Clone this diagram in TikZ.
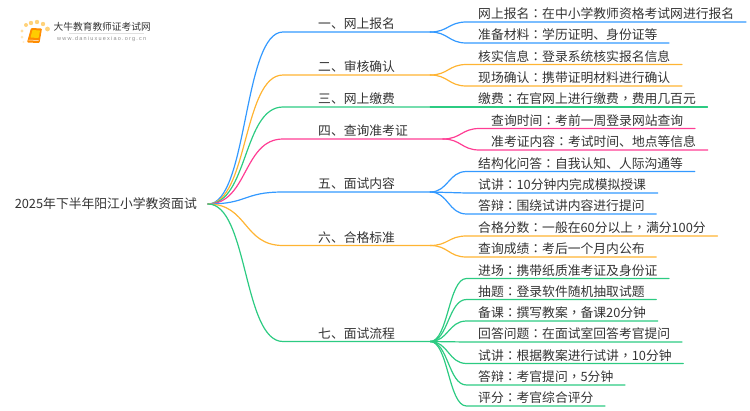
\documentclass[tikz,border=0pt]{standalone}
\usepackage{fontspec}
\setmainfont{Noto Sans CJK SC}
\newfontfamily\urlfont[LetterSpace=22]{Liberation Sans}
\newfontfamily\puncfont{Noto Sans CJK TC}
\newcommand{\zhcolon}{{\puncfont ：}}
\newcommand{\zhcomma}{{\puncfont ，}}
\definecolor{blueline}{HTML}{3399FF}
\definecolor{orangeline}{HTML}{FFB433}
\definecolor{greenline}{HTML}{2CCB82}
\definecolor{pinkline}{HTML}{FF3D94}
\definecolor{textgrey}{HTML}{333333}
\definecolor{dotgold}{HTML}{FFD27A}
\tikzset{
    rootnode/.style={anchor=east, inner xsep=11pt, inner ysep=0pt, font=\fontsize{12.8}{13}\selectfont, text=textgrey},
    stage/.style={anchor=south west, inner xsep=35pt, inner ysep=3pt, text depth=0pt, font=\fontsize{12.8}{13}\selectfont, text=textgrey},
    leaf/.style={anchor=south west, inner xsep=11.5pt, inner ysep=3pt, text depth=0pt, font=\fontsize{12.8}{13}\selectfont, text=textgrey},
    branch/.style={line width=1.2pt, line cap=round},
}
\begin{document}
\begin{tikzpicture}[x=1pt, y=-1pt]
    \useasboundingbox (0,0) rectangle (750,410);

    % logo
    \fill[dotgold] (26,25) circle (2);
    \fill[dotgold] (31,23) circle (2.2);
    \fill[dotgold] (37,22) circle (2.2);
    \fill[dotgold] (43,24) circle (2.2);
    \fill[dotgold] (47.5,29) circle (2.4);
    \fill[dotgold!70] (22,31) circle (1.7);
    \fill[dotgold!50] (22,37) circle (1.5);
    \fill[dotgold!35] (23.5,42) circle (1.2);
    \fill[orange!90!yellow, rounded corners=1pt] (31,28) -- (42,28.5) -- (39.5,43) -- (27,42.5) -- cycle;
    \fill[orange!40!yellow, rounded corners=0.5pt] (32.5,30) -- (40,30.5) -- (38.5,38) -- (30.5,37.5) -- cycle;
    \draw[white, line width=0.5pt] (28.5,40) -- (38.5,40.5);
    \node (logotext) [anchor=west, inner sep=0pt, text=textgrey, font=\fontsize{9.7}{10}\selectfont] at (53.5,26.5) {大牛教育教师证考试网};
    \node (logourl) [anchor=west, inner sep=0pt, text=black!45, font=\fontsize{5.5}{6}\urlfont] at (57,39) {www.daniuxuexiao.org.cn};
    \draw[black!12, line width=0.6pt] (logotext.south west) ++(15,2) -- ++(75,0);

    % nodes
    \node (root) [rootnode] at (208,204) {2025年下半年阳江小学教资面试};

    \node (one) [stage] at (283,32) {一、网上报名};
    \node (two) [stage] at (283,75) {二、审核确认};
    \node (three) [stage] at (283,107) {三、网上缴费};
    \node (four) [stage] at (283,139) {四、查询准考证};
    \node (five) [stage] at (283,192) {五、面试内容};
    \node (six) [stage] at (283,245.5) {六、合格标准};
    \node (seven) [stage] at (283,341.5) {七、面试流程};

    \node (signup) [leaf] at (466.5,22) {网上报名\zhcolon 在中小学教师资格考试网进行报名};
    \node (papers) [leaf] at (466.5,43) {准备材料\zhcolon 学历证明、身份证等};
    \node (verify) [leaf] at (466.5,64.5) {核实信息\zhcolon 登录系统核实报名信息};
    \node (onsite) [leaf] at (466.5,86) {现场确认\zhcolon 携带证明材料进行确认};
    \node (fee) [leaf] at (466.5,107) {缴费\zhcolon 在官网上进行缴费\zhcomma 费用几百元};
    \node (when) [leaf] at (479.5,128.5) {查询时间\zhcolon 考前一周登录网站查询};
    \node (ticket) [leaf] at (479.5,150) {准考证内容\zhcolon 考试时间、地点等信息};
    \node (struct) [leaf] at (466.5,171.5) {结构化问答\zhcolon 自我认知、人际沟通等};
    \node (talk) [leaf] at (466.5,193) {试讲\zhcolon 10分钟内完成模拟授课};
    \node (defend) [leaf] at (466.5,214) {答辩\zhcolon 围绕试讲内容进行提问};
    \node (score) [leaf] at (466.5,236) {合格分数\zhcolon 一般在60分以上\zhcomma 满分100分};
    \node (result) [leaf] at (466.5,257) {查询成绩\zhcolon 考后一个月内公布};
    \node (enter) [leaf] at (466.5,278.5) {进场\zhcolon 携带纸质准考证及身份证};
    \node (draw) [leaf] at (466.5,299.5) {抽题\zhcolon 登录软件随机抽取试题};
    \node (prep) [leaf] at (466.5,321) {备课\zhcolon 撰写教案\zhcomma 备课20分钟};
    \node (answer) [leaf] at (466.5,342) {回答问题\zhcolon 在面试室回答考官提问};
    \node (lecture) [leaf] at (466.5,363.5) {试讲\zhcolon 根据教案进行试讲\zhcomma 10分钟};
    \node (reply) [leaf] at (466.5,385) {答辩\zhcolon 考官提问\zhcomma 5分钟};
    \node (grade) [leaf] at (466.5,406) {评分\zhcolon 考官综合评分};

    % root to stages
    \draw[branch, blueline] (root.east) .. controls +(40,0) and +(-40,0) .. (one.south west) -- (one.south east);
    \draw[branch, orangeline] (root.east) .. controls +(40,0) and +(-40,0) .. (two.south west) -- (two.south east);
    \draw[branch, greenline] (root.east) .. controls +(40,0) and +(-40,0) .. (three.south west) -- (three.south east);
    \draw[branch, pinkline] (root.east) .. controls +(40,0) and +(-40,0) .. (four.south west) -- (four.south east);
    \draw[branch, blueline] (root.east) .. controls +(40,0) and +(-40,0) .. (five.south west) -- (five.south east);
    \draw[branch, orangeline] (root.east) .. controls +(40,0) and +(-40,0) .. (six.south west) -- (six.south east);
    \draw[branch, greenline] (root.east) .. controls +(40,0) and +(-40,0) .. (seven.south west) -- (seven.south east);

    % stages to leaves
    \draw[branch, blueline] (one.south east) .. controls +(18,0) and +(-18,0) .. (signup.south west) -- (signup.south east);
    \draw[branch, blueline] (one.south east) .. controls +(18,0) and +(-18,0) .. (papers.south west) -- (papers.south east);
    \draw[branch, orangeline] (two.south east) .. controls +(18,0) and +(-18,0) .. (verify.south west) -- (verify.south east);
    \draw[branch, orangeline] (two.south east) .. controls +(18,0) and +(-18,0) .. (onsite.south west) -- (onsite.south east);
    \draw[branch, greenline] (three.south east) -- (fee.south west) -- (fee.south east);
    \draw[branch, pinkline] (four.south east) .. controls +(18,0) and +(-18,0) .. (when.south west) -- (when.south east);
    \draw[branch, pinkline] (four.south east) .. controls +(18,0) and +(-18,0) .. (ticket.south west) -- (ticket.south east);
    \draw[branch, blueline] (five.south east) .. controls +(18,0) and +(-18,0) .. (struct.south west) -- (struct.south east);
    \draw[branch, blueline] (five.south east) .. controls +(18,0) and +(-18,0) .. (talk.south west) -- (talk.south east);
    \draw[branch, blueline] (five.south east) .. controls +(18,0) and +(-18,0) .. (defend.south west) -- (defend.south east);
    \draw[branch, orangeline] (six.south east) .. controls +(18,0) and +(-18,0) .. (score.south west) -- (score.south east);
    \draw[branch, orangeline] (six.south east) .. controls +(18,0) and +(-18,0) .. (result.south west) -- (result.south east);
    \draw[branch, greenline] (seven.south east) .. controls +(18,0) and +(-18,0) .. (enter.south west) -- (enter.south east);
    \draw[branch, greenline] (seven.south east) .. controls +(18,0) and +(-18,0) .. (draw.south west) -- (draw.south east);
    \draw[branch, greenline] (seven.south east) .. controls +(18,0) and +(-18,0) .. (prep.south west) -- (prep.south east);
    \draw[branch, greenline] (seven.south east) .. controls +(18,0) and +(-18,0) .. (answer.south west) -- (answer.south east);
    \draw[branch, greenline] (seven.south east) .. controls +(18,0) and +(-18,0) .. (lecture.south west) -- (lecture.south east);
    \draw[branch, greenline] (seven.south east) .. controls +(18,0) and +(-18,0) .. (reply.south west) -- (reply.south east);
    \draw[branch, greenline] (seven.south east) .. controls +(18,0) and +(-18,0) .. (grade.south west) -- (grade.south east);
\end{tikzpicture}
\end{document}
